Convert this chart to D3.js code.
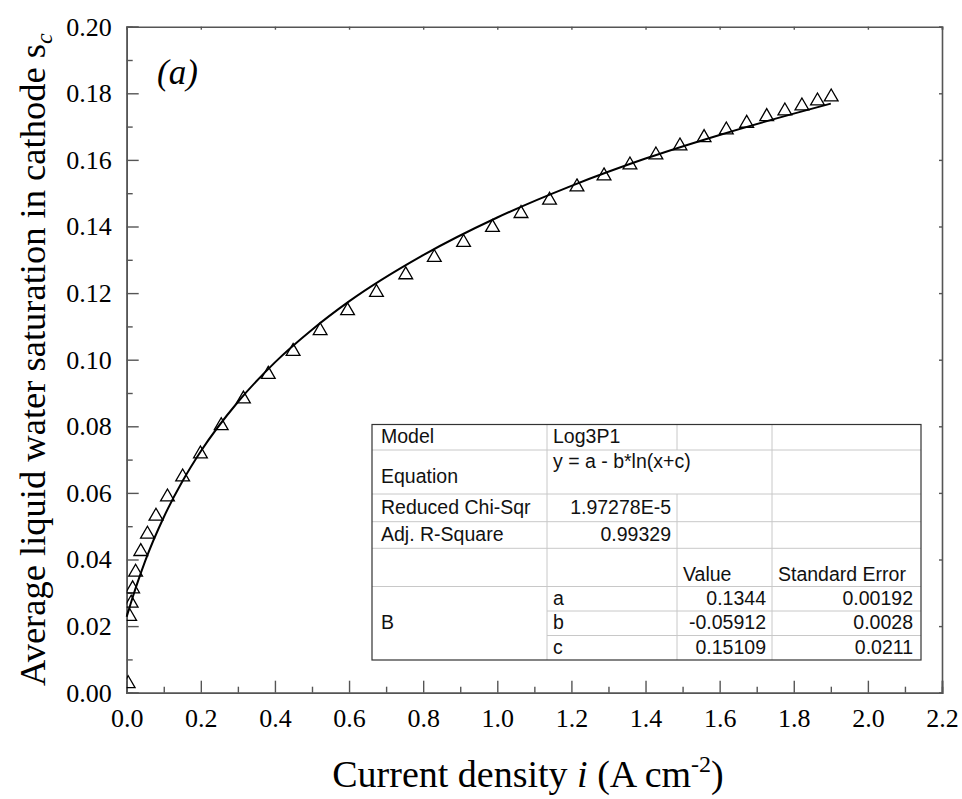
<!DOCTYPE html>
<html>
<head>
<meta charset="utf-8">
<script src="https://cdn.jsdelivr.net/npm/d3@7"></script>
<style>
body { margin: 0; background: #fff; }
</style>
</head>
<body>
<div id="chart"></div>
<script>
// measured points (current density, saturation)
var currentDensity = [0.004, 0.008, 0.012, 0.016, 0.024, 0.038, 0.056, 0.079, 0.110, 0.151,
    0.199, 0.255, 0.315, 0.382, 0.449, 0.522, 0.596, 0.674, 0.753, 0.830,
    0.909, 0.987, 1.064, 1.141, 1.215, 1.288, 1.358, 1.428, 1.493, 1.558,
    1.618, 1.673, 1.727, 1.776, 1.822, 1.864, 1.901];
var saturation = [0.0033, 0.0235, 0.0275, 0.0318, 0.0368, 0.0430, 0.0482, 0.0536, 0.0594, 0.0654,
    0.0723, 0.0808, 0.0888, 0.0962, 0.1031, 0.1093, 0.1153, 0.1208, 0.1261, 0.1313,
    0.1358, 0.1403, 0.1445, 0.1485, 0.1525, 0.1558, 0.1591, 0.1621, 0.1648, 0.1673,
    0.1696, 0.1716, 0.1736, 0.1753, 0.1768, 0.1783, 0.1795];

// fitted curve
var fitX = [0, 0.01, 0.025, 0.05, 0.1, 0.15, 0.2, 0.3, 0.4, 0.5, 0.6, 0.8, 1.0, 1.2, 1.4, 1.6, 1.8, 1.9];
var fitY = [0.0228, 0.0265, 0.0317, 0.0396, 0.0527, 0.0634, 0.0725, 0.0873, 0.0992, 0.1090,
    0.1175, 0.1314, 0.1427, 0.1522, 0.1604, 0.1675, 0.1739, 0.1769];

var xTicks = [0, 0.2, 0.4, 0.6, 0.8, 1.0, 1.2, 1.4, 1.6, 1.8, 2.0, 2.2];
var yTicks = [0, 0.02, 0.04, 0.06, 0.08, 0.10, 0.12, 0.14, 0.16, 0.18, 0.20];

// fit report table
var fitLabels = ["Model", "Equation", "Reduced Chi-Sqr", "Adj. R-Square"];
var fitValues = ["Log3P1", "y = a - b*ln(x+c)", "1.97278E-5", "0.99329"];
var paramHeader = ["Value", "Standard Error"];
var paramGroup = "B";
var paramNames = ["a", "b", "c"];
var paramValues = ["0.1344", "-0.05912", "0.15109"];
var paramErrors = ["0.00192", "0.0028", "0.0211"];

function init()
{
    var w = 962;
    var h = 799;
    var left = 126.7, right = 942, top = 26.7, bottom = 692.7;
    var axisColor = "#555";
    var serif = "'Liberation Serif', 'Times New Roman', serif";
    var sans = "'Liberation Sans', Arial, sans-serif";

    var x = d3.scaleLinear().domain([0, 2.2]).range([left, right]);
    var y = d3.scaleLinear().domain([0, 0.2]).range([bottom, top]);

    var svg = d3.select("#chart")
        .append("svg")
        .attr("width", w)
        .attr("height", h);

    svg.append("defs").append("clipPath")
        .attr("id", "plotClip")
        .append("rect")
        .attr("x", left).attr("y", top)
        .attr("width", right - left).attr("height", bottom - top);

    // minor ticks
    var xMinor = d3.range(0.1, 2.2, 0.2);
    var yMinor = d3.range(0.01, 0.2, 0.02);

    svg.append("g")
        .attr("transform", "translate(0," + bottom + ")")
        .call(d3.axisBottom(x).tickValues(xMinor).tickSize(-6).tickFormat(""))
        .call(styleAxis);
    svg.append("g")
        .attr("transform", "translate(" + left + ",0)")
        .call(d3.axisLeft(y).tickValues(yMinor).tickSize(-6).tickFormat(""))
        .call(styleAxis);

    // top and right frame
    svg.append("g")
        .attr("transform", "translate(0," + top + ")")
        .call(d3.axisTop(x).tickValues(xTicks).tickSize(-3).tickFormat(""))
        .call(styleAxis);
    svg.append("g")
        .attr("transform", "translate(" + right + ",0)")
        .call(d3.axisRight(y).tickValues(yTicks).tickSize(-3).tickFormat(""))
        .call(styleAxis);

    // major ticks with labels
    svg.append("g")
        .attr("transform", "translate(0," + bottom + ")")
        .call(d3.axisBottom(x).tickValues(xTicks).tickSize(-12).tickPadding(16)
            .tickFormat(d3.format(".1f")))
        .call(styleAxis);
    svg.append("g")
        .attr("transform", "translate(" + left + ",0)")
        .call(d3.axisLeft(y).tickValues(yTicks).tickSize(-12).tickPadding(15)
            .tickFormat(d3.format(".2f")))
        .call(styleAxis);

    function styleAxis(g) {
        g.select(".domain").attr("stroke", axisColor).attr("stroke-width", 1.6);
        g.selectAll(".tick line").attr("stroke", axisColor).attr("stroke-width", 1.4);
        g.selectAll(".tick text")
            .attr("fill", "#000")
            .style("font-family", serif)
            .style("font-size", "26px");
    }

    // fitted line
    var fitData = fitX.map(function (d, i) { return [d, fitY[i]]; });
    var line = d3.line()
        .x(function (d) { return x(d[0]); })
        .y(function (d) { return y(d[1]); })
        .curve(d3.curveMonotoneX);

    svg.append("path")
        .datum(fitData)
        .attr("d", line)
        .attr("fill", "none")
        .attr("stroke", "#000")
        .attr("stroke-width", 2);

    // open triangle markers
    var points = currentDensity.map(function (d, i) { return [d, saturation[i]]; });
    var tri = d3.symbol().type(d3.symbolTriangle).size(82);

    svg.append("g")
        .attr("clip-path", "url(#plotClip)")
        .selectAll("path")
        .data(points)
        .enter()
        .append("path")
        .attr("d", tri)
        .attr("transform", function (d) {
            return "translate(" + x(d[0]) + "," + (y(d[1]) + 2) + ")";
        })
        .attr("fill", "none")
        .attr("stroke", "#000")
        .attr("stroke-width", 1.3);

    // panel label
    svg.append("text")
        .attr("x", 157)
        .attr("y", 84)
        .style("font-family", serif)
        .style("font-style", "italic")
        .style("font-size", "35px")
        .text("(a)");

    // axis titles
    var xt = svg.append("text")
        .attr("x", 528)
        .attr("y", 787)
        .attr("text-anchor", "middle")
        .style("font-family", serif)
        .style("font-size", "38px");
    xt.append("tspan").text("Current density ");
    xt.append("tspan").style("font-style", "italic").text("i");
    xt.append("tspan").text(" (A cm");
    xt.append("tspan").attr("dy", -15).style("font-size", "24px").text("-2");
    xt.append("tspan").attr("dy", 15).text(")");

    var yt = svg.append("text")
        .attr("transform", "translate(45," + ((top + bottom) / 2) + ") rotate(-90)")
        .attr("text-anchor", "middle")
        .style("font-family", serif)
        .style("font-size", "36.5px");
    yt.append("tspan").text("Average liquid water saturation in cathode s");
    yt.append("tspan").attr("dy", 7).style("font-size", "24px").style("font-style", "italic").text("c");

    // fit report table
    var colX = [372, 547, 677, 772, 921];
    var rowY = [424.5, 450, 494, 521.7, 548.3, 586.5, 611, 635.5, 660];
    var grid = "#c8c8c8";
    var tbl = svg.append("g");

    tbl.append("rect")
        .attr("x", colX[0]).attr("y", rowY[0])
        .attr("width", colX[4] - colX[0]).attr("height", rowY[8] - rowY[0])
        .attr("fill", "#fff");

    function hLine(x1, x2, yy) {
        tbl.append("line").attr("x1", x1).attr("x2", x2).attr("y1", yy).attr("y2", yy)
            .attr("stroke", grid).attr("stroke-width", 1);
    }
    function vLine(xx, y1, y2) {
        tbl.append("line").attr("x1", xx).attr("x2", xx).attr("y1", y1).attr("y2", y2)
            .attr("stroke", grid).attr("stroke-width", 1);
    }
    for (var r = 1; r <= 5; r++) hLine(colX[0], colX[4], rowY[r]);
    hLine(colX[1], colX[4], rowY[6]);
    hLine(colX[1], colX[4], rowY[7]);
    vLine(colX[1], rowY[0], rowY[8]);
    vLine(colX[2], rowY[0], rowY[1]);
    vLine(colX[2], rowY[2], rowY[8]);
    vLine(colX[3], rowY[0], rowY[8]);

    tbl.append("rect")
        .attr("x", colX[0]).attr("y", rowY[0])
        .attr("width", colX[4] - colX[0]).attr("height", rowY[8] - rowY[0])
        .attr("fill", "none")
        .attr("stroke", "#333")
        .attr("stroke-width", 1.2);

    function cell(txt, xx, yy, anchor) {
        tbl.append("text")
            .attr("x", xx).attr("y", yy)
            .attr("text-anchor", anchor || "start")
            .style("font-family", sans)
            .style("font-size", "19.5px")
            .attr("fill", "#111")
            .text(txt);
    }
    var labelBase = [443, 483, 514, 541];
    fitLabels.forEach(function (t, i) { cell(t, colX[0] + 9, labelBase[i]); });
    cell(fitValues[0], colX[1] + 6, labelBase[0]);
    cell(fitValues[1], colX[1] + 6, 468);
    cell(fitValues[2], colX[2] - 6, labelBase[2], "end");
    cell(fitValues[3], colX[2] - 6, labelBase[3], "end");

    cell(paramHeader[0], colX[2] + 6, 581);
    cell(paramHeader[1], colX[3] + 6, 581);

    var paramBase = [605, 629, 654];
    cell(paramGroup, colX[0] + 9, paramBase[1]);
    paramNames.forEach(function (t, i) {
        cell(t, colX[1] + 6, paramBase[i]);
        cell(paramValues[i], colX[3] - 6, paramBase[i], "end");
        cell(paramErrors[i], colX[4] - 8, paramBase[i], "end");
    });
}

window.onload = init;
</script>
</body>
</html>
